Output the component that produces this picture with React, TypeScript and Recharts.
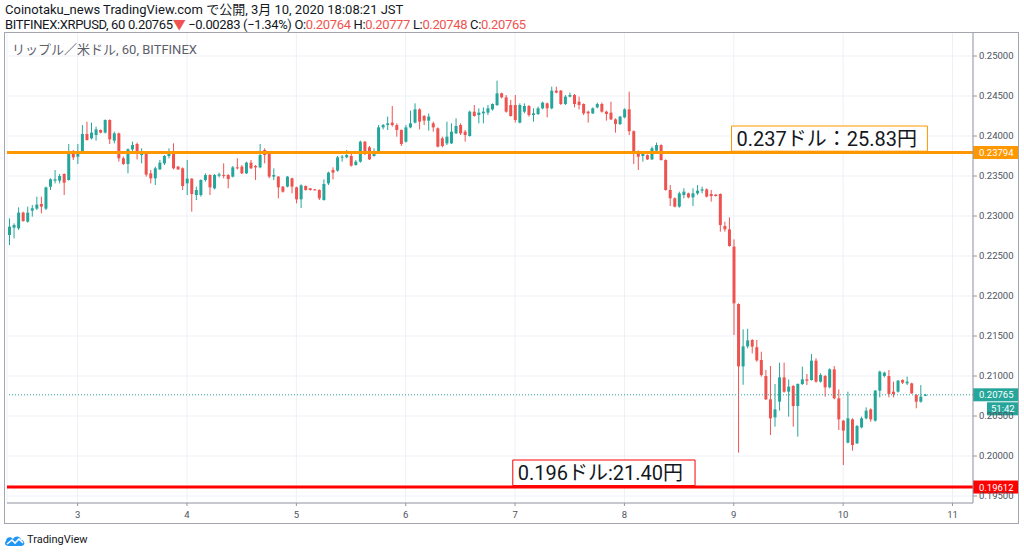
import React from 'react';
import { ComposedChart, Bar, XAxis, YAxis, CartesianGrid, ReferenceLine, ReferenceArea } from 'recharts';

// hourly XRP/USD candles, t = hours from 3 Mar 00:00 (first candle 2 Mar 09:00)
const START_HOUR = -15;
const LAST_SLOT = 196;

const opens = [
  0.22762, 0.22854, 0.22846, 0.23042, 0.22929, 0.23067, 0.23092, 0.2315, 0.23092, 0.23367, 0.23442, 0.23442,
  0.23525, 0.2345, 0.23792, 0.23742, 0.23804, 0.24025, 0.23971, 0.24012, 0.24075, 0.24042, 0.242, 0.23942,
  0.24033, 0.23721, 0.2365, 0.23833, 0.239, 0.23762, 0.23775, 0.23533, 0.23471, 0.23583, 0.23658, 0.2375,
  0.23804, 0.23617, 0.23596, 0.23408, 0.23467, 0.23262, 0.23262, 0.2345, 0.23512, 0.23346, 0.23504, 0.23512,
  0.23512, 0.23492, 0.23608, 0.23617, 0.23533, 0.23667, 0.23625, 0.23608, 0.23825, 0.23775, 0.23492, 0.23492,
  0.23367, 0.23367, 0.23471, 0.23358, 0.23208, 0.23375, 0.23346, 0.23333, 0.23325, 0.232, 0.23408, 0.23575,
  0.23567, 0.23733, 0.23733, 0.2375, 0.23637, 0.23679, 0.23929, 0.23858, 0.2375, 0.23804, 0.24108, 0.24137,
  0.24167, 0.24137, 0.24075, 0.23929, 0.24108, 0.24167, 0.24333, 0.2425, 0.24192, 0.24158, 0.24096, 0.23971,
  0.23908, 0.23908, 0.24033, 0.24137, 0.24054, 0.24, 0.24304, 0.24262, 0.24283, 0.24292, 0.24333, 0.24387,
  0.24533, 0.24483, 0.24387, 0.24387, 0.24167, 0.24304, 0.24375, 0.24262, 0.24275, 0.24346, 0.24408, 0.24346,
  0.24567, 0.24567, 0.244, 0.24492, 0.24512, 0.24429, 0.244, 0.24304, 0.24283, 0.24358, 0.244, 0.24304,
  0.24292, 0.24208, 0.2415, 0.24233, 0.24333, 0.2406, 0.23804, 0.2375, 0.23762, 0.23708, 0.23817, 0.23887,
  0.237, 0.23325, 0.23221, 0.23117, 0.23262, 0.23283, 0.23233, 0.23283, 0.23317, 0.23333, 0.23275, 0.23267,
  0.23275, 0.22875, 0.22833, 0.22617, 0.219, 0.2112, 0.2137, 0.2145, 0.2136, 0.212, 0.21, 0.20708,
  0.20483, 0.20679, 0.20983, 0.20804, 0.20875, 0.20625, 0.209, 0.20958, 0.2095, 0.21192, 0.20929, 0.21,
  0.20858, 0.21083, 0.20721, 0.20442, 0.20167, 0.20458, 0.20158, 0.20358, 0.20471, 0.20583, 0.20442, 0.20817,
  0.21, 0.21, 0.20804, 0.20804, 0.2095, 0.20908, 0.20908, 0.20762, 0.20679, 0.20764,
];

const highs = [
  0.22971, 0.22908, 0.23108, 0.23054, 0.23117, 0.23137, 0.23242, 0.23242, 0.23367, 0.23471, 0.23575, 0.23525,
  0.23533, 0.239, 0.23825, 0.239, 0.24137, 0.24179, 0.24167, 0.24117, 0.24083, 0.24208, 0.24208, 0.24054,
  0.24042, 0.23742, 0.23846, 0.23929, 0.23917, 0.23846, 0.23783, 0.23575, 0.23617, 0.237, 0.23762, 0.23846,
  0.23908, 0.23625, 0.23608, 0.237, 0.23471, 0.23367, 0.23458, 0.23533, 0.23521, 0.23525, 0.23542, 0.23658,
  0.23525, 0.23625, 0.23721, 0.23637, 0.23679, 0.237, 0.23637, 0.239, 0.23846, 0.23783, 0.23596, 0.235,
  0.23375, 0.235, 0.23479, 0.23367, 0.23396, 0.23383, 0.2335, 0.23337, 0.23333, 0.23458, 0.23554, 0.23608,
  0.2375, 0.23762, 0.23825, 0.23783, 0.237, 0.23942, 0.23937, 0.23875, 0.23846, 0.24137, 0.2415, 0.24242,
  0.24375, 0.24158, 0.24083, 0.24137, 0.24317, 0.24408, 0.24346, 0.24262, 0.24283, 0.24179, 0.24108, 0.23992,
  0.24179, 0.24158, 0.24221, 0.24158, 0.24075, 0.24317, 0.24387, 0.24346, 0.24358, 0.24387, 0.24408, 0.24692,
  0.24542, 0.24512, 0.2445, 0.24512, 0.24408, 0.24408, 0.24387, 0.24346, 0.24367, 0.24429, 0.24417, 0.24617,
  0.24617, 0.24575, 0.24512, 0.24542, 0.24525, 0.24492, 0.24408, 0.24317, 0.24358, 0.24417, 0.24417, 0.24317,
  0.24429, 0.24221, 0.2425, 0.24346, 0.24554, 0.2407, 0.2382, 0.23804, 0.2377, 0.23867, 0.23917, 0.23896,
  0.23708, 0.23387, 0.23233, 0.23304, 0.23346, 0.23292, 0.23346, 0.23387, 0.23367, 0.23346, 0.23325, 0.23275,
  0.23283, 0.22929, 0.22983, 0.22708, 0.21908, 0.21583, 0.2159, 0.2146, 0.2145, 0.21304, 0.21075, 0.21125,
  0.209, 0.21167, 0.21167, 0.20958, 0.20887, 0.20908, 0.21117, 0.21025, 0.21275, 0.21221, 0.21033, 0.21012,
  0.21096, 0.21125, 0.20833, 0.2045, 0.20804, 0.20471, 0.20387, 0.20492, 0.20608, 0.20596, 0.20825, 0.21067,
  0.21054, 0.21075, 0.20929, 0.2095, 0.20958, 0.20992, 0.20917, 0.20775, 0.20887, 0.20777,
];

const lows = [
  0.22637, 0.22721, 0.22825, 0.22929, 0.22917, 0.22992, 0.23075, 0.23033, 0.23075, 0.23325, 0.23408, 0.23408,
  0.23262, 0.23442, 0.237, 0.2365, 0.23792, 0.23942, 0.23958, 0.23942, 0.24033, 0.24033, 0.239, 0.23908,
  0.23679, 0.23637, 0.23533, 0.23804, 0.23708, 0.23658, 0.23492, 0.23408, 0.23387, 0.23575, 0.23637, 0.23721,
  0.23583, 0.23575, 0.23325, 0.23262, 0.23054, 0.232, 0.23242, 0.23429, 0.23262, 0.23333, 0.23483, 0.23471,
  0.23346, 0.23483, 0.23583, 0.23525, 0.23525, 0.23587, 0.2345, 0.23596, 0.23658, 0.23471, 0.2345, 0.23221,
  0.23292, 0.23358, 0.23283, 0.23158, 0.231, 0.23317, 0.23317, 0.23317, 0.232, 0.23192, 0.23387, 0.23458,
  0.23554, 0.23679, 0.23721, 0.23617, 0.2363, 0.23667, 0.23762, 0.237, 0.23742, 0.23792, 0.24083, 0.24075,
  0.24117, 0.23992, 0.23875, 0.23917, 0.24096, 0.24158, 0.24083, 0.24137, 0.24067, 0.24054, 0.23858, 0.23858,
  0.23887, 0.239, 0.24025, 0.24012, 0.23929, 0.23992, 0.24242, 0.24158, 0.24158, 0.24262, 0.24317, 0.24375,
  0.24471, 0.24292, 0.24242, 0.24167, 0.24158, 0.24283, 0.24242, 0.24179, 0.24262, 0.24333, 0.24233, 0.24333,
  0.24533, 0.24387, 0.24387, 0.24483, 0.24358, 0.24333, 0.24262, 0.24167, 0.24275, 0.24346, 0.24292, 0.24192,
  0.242, 0.24042, 0.24137, 0.24221, 0.24012, 0.2365, 0.23575, 0.23679, 0.237, 0.237, 0.23804, 0.23692,
  0.23317, 0.23125, 0.23108, 0.23104, 0.23221, 0.23221, 0.23125, 0.23262, 0.23283, 0.23233, 0.23179, 0.23242,
  0.22804, 0.22804, 0.22617, 0.21512, 0.20042, 0.2089, 0.21346, 0.21283, 0.21179, 0.20992, 0.207, 0.20262,
  0.20367, 0.20567, 0.20792, 0.20492, 0.20367, 0.20242, 0.20887, 0.20887, 0.20942, 0.20917, 0.20917, 0.20742,
  0.20846, 0.20708, 0.20325, 0.19887, 0.20158, 0.20067, 0.2015, 0.20346, 0.20458, 0.20429, 0.20429, 0.20733,
  0.20983, 0.20733, 0.20733, 0.20792, 0.209, 0.20887, 0.20775, 0.20596, 0.20667, 0.20748,
];

const closes = [
  0.22867, 0.22887, 0.23042, 0.22937, 0.23042, 0.23096, 0.23142, 0.23117, 0.23358, 0.23458, 0.23458, 0.235,
  0.23417, 0.23792, 0.23733, 0.23775, 0.24025, 0.2395, 0.24042, 0.24083, 0.24042, 0.242, 0.23958, 0.24033,
  0.23721, 0.2365, 0.23833, 0.23887, 0.23775, 0.23804, 0.23517, 0.23471, 0.23596, 0.23667, 0.2375, 0.23812,
  0.23596, 0.23583, 0.23375, 0.23467, 0.23275, 0.23325, 0.2345, 0.23512, 0.23358, 0.23512, 0.23521, 0.235,
  0.23462, 0.23608, 0.23596, 0.23533, 0.23667, 0.23596, 0.23608, 0.23762, 0.23762, 0.23492, 0.23512, 0.23358,
  0.23304, 0.23492, 0.23367, 0.23208, 0.23383, 0.23325, 0.23325, 0.23325, 0.23221, 0.234, 0.23542, 0.23542,
  0.23733, 0.23742, 0.23762, 0.23629, 0.23679, 0.23929, 0.23783, 0.23708, 0.23804, 0.24108, 0.24137, 0.24158,
  0.24137, 0.24075, 0.239, 0.24108, 0.24158, 0.24333, 0.24179, 0.24192, 0.24242, 0.24108, 0.23867, 0.23875,
  0.23992, 0.24054, 0.24125, 0.24033, 0.24012, 0.24304, 0.2425, 0.24292, 0.24304, 0.24346, 0.244, 0.24533,
  0.24483, 0.24304, 0.2425, 0.242, 0.24387, 0.24375, 0.24262, 0.24283, 0.24346, 0.24417, 0.24346, 0.24567,
  0.24542, 0.244, 0.24492, 0.24512, 0.244, 0.24387, 0.24283, 0.24283, 0.24346, 0.244, 0.24304, 0.24275,
  0.24208, 0.2415, 0.24242, 0.24333, 0.2406, 0.238, 0.23742, 0.23775, 0.23708, 0.23846, 0.23887, 0.237,
  0.23325, 0.23221, 0.23117, 0.23283, 0.23304, 0.23233, 0.23283, 0.23317, 0.23333, 0.23242, 0.2325, 0.2325,
  0.22887, 0.22833, 0.22625, 0.21908, 0.2112, 0.2137, 0.21445, 0.21367, 0.21195, 0.21012, 0.20708, 0.20471,
  0.20583, 0.20983, 0.20804, 0.20867, 0.20625, 0.209, 0.20958, 0.20942, 0.21192, 0.20929, 0.21012, 0.20858,
  0.21083, 0.20721, 0.20458, 0.20317, 0.20471, 0.20137, 0.20375, 0.20471, 0.20567, 0.20458, 0.20817, 0.21054,
  0.21042, 0.20775, 0.20775, 0.20942, 0.20917, 0.20929, 0.20783, 0.20679, 0.20742, 0.20765,
];

const dayTicks = [0, 24, 48, 72, 96, 120, 144, 168, 192];
const dayLabels = ['3', '4', '5', '6', '7', '8', '9', '10', '11'];
const priceTicks = [0.195, 0.2, 0.205, 0.21, 0.215, 0.22, 0.225, 0.23, 0.235, 0.24, 0.245, 0.25];

const LEVEL_HIGH = 0.23794;
const LEVEL_LOW = 0.19612;
const LAST_PRICE = 0.20765;
const COUNTDOWN = '51:42';
const NOTE_HIGH = '0.237ドル：25.83円';
const NOTE_LOW = '0.196ドル:21.40円';

const UP = '#26a69a';
const DOWN = '#ef5350';
const ORANGE = '#ff9800';
const RED = '#ff0000';
const FONT = "Roboto, 'Noto Sans CJK JP', sans-serif";

const data = Array.from({ length: LAST_SLOT - START_HOUR + 1 }, (_, i) => {
  const t = START_HOUR + i;
  if (i >= opens.length) return { t };
  return { t, o: opens[i], h: highs[i], l: lows[i], c: closes[i], range: [lows[i], highs[i]] };
});

const Candle = (props: any) => {
  const { x, y, width, height, payload } = props;
  if (!payload || payload.o == null) return null;
  const { o, h, l, c } = payload;
  const top = Math.min(y, y + height);
  const span = Math.abs(height);
  const toY = (v: number) => (h === l ? top : top + ((h - v) / (h - l)) * span);
  const color = c >= o ? UP : DOWN;
  const bodyTop = toY(Math.max(o, c));
  const bodyH = Math.max(1, toY(Math.min(o, c)) - bodyTop);
  const cx = x + width / 2;
  return (
    <g>
      <line x1={cx} x2={cx} y1={top} y2={top + span} stroke={color} strokeWidth={1} />
      <rect x={x} y={bodyTop} width={width} height={bodyH} fill={color} />
    </g>
  );
};

const PriceTag = ({ viewBox, text, bg, sub }: any) => {
  if (!viewBox) return null;
  const x = viewBox.x + viewBox.width;
  const y = viewBox.y;
  return (
    <g>
      <rect x={x} y={y - 6.5} width={45} height={13} fill={bg} />
      <text x={x + 6} y={y + 3.5} fill="#fff" fontSize={9.5} fontFamily={FONT}>{text}</text>
      {sub && (
        <g>
          <rect x={x + 14} y={y + 7.5} width={31} height={13} fill={bg} />
          <text x={x + 18} y={y + 17.5} fill="#fff" fontSize={9.5} fontFamily={FONT}>{sub}</text>
        </g>
      )}
    </g>
  );
};

const TvLogo = () => (
  <svg width={22} height={12} viewBox="0 0 22 12" style={{ position: 'absolute', left: 4, top: 535 }}>
    <path d="M5 11 C1 11 0 8 2 6 C2 2 7 1 9 4 C11 0 17 1 17 5 C21 5 22 11 17 11 Z" fill="#2196f3" />
    <path d="M3 9 L8 5 L11 8 L15 4 L19 8" stroke="#fff" strokeWidth={1.6} fill="none" />
  </svg>
);

const red = { color: '#ef5350' };

export default function App() {
  return (
    <div style={{ position: 'relative', width: 1024, height: 552, background: '#fff', fontFamily: FONT, overflow: 'hidden' }}>
      <style>{'body{margin:0}'}</style>
      <div style={{ position: 'absolute', left: 5, top: 2, fontSize: 13, lineHeight: '15px', color: '#131722', whiteSpace: 'nowrap' }}>
        Coinotaku_news TradingView.com で公開, 3月 10, 2020 18:08:21 JST
      </div>
      <div style={{ position: 'absolute', left: 5, top: 17, fontSize: 13, lineHeight: '15px', letterSpacing: -0.35, color: '#131722', whiteSpace: 'nowrap' }}>
        BITFINEX:XRPUSD, 60 0.20765<span style={red}>▼</span> −0.00283 (−1.34%) O:<span style={red}>0.20764</span> H:
        <span style={red}>0.20777</span> L:<span style={red}>0.20748</span> C:<span style={red}>0.20765</span>
      </div>

      <div style={{ position: 'absolute', left: 5, top: 32 }}>
        <ComposedChart width={1013} height={491} data={data} margin={{ top: 0, right: 0, left: 2, bottom: 0 }}>
          <CartesianGrid stroke="#edf1f7" strokeWidth={1} />
          <XAxis
            dataKey="t"
            ticks={dayTicks}
            interval={0}
            tickFormatter={(t: number) => dayLabels[dayTicks.indexOf(t)] ?? ''}
            height={20}
            tickSize={3}
            tickMargin={5}
            axisLine={{ stroke: '#9598a1' }}
            tickLine={{ stroke: '#9598a1' }}
            tick={{ fontSize: 9.5, fill: '#4c525e', fontFamily: FONT }}
          />
          <YAxis
            orientation="right"
            type="number"
            domain={[0.194125, 0.253]}
            allowDataOverflow
            ticks={priceTicks}
            interval={0}
            width={45}
            tickSize={4}
            tickFormatter={(v: number) => v.toFixed(5)}
            axisLine={{ stroke: '#9598a1' }}
            tickLine={{ stroke: '#9598a1' }}
            tick={{ fontSize: 9.5, fill: '#4c525e', fontFamily: FONT }}
          />
          <Bar dataKey="range" barSize={3} shape={<Candle />} isAnimationActive={false} />
          <ReferenceLine
            y={LAST_PRICE}
            stroke={UP}
            strokeDasharray="1 2"
            label={(p: any) => <PriceTag {...p} text={LAST_PRICE.toFixed(5)} bg={UP} sub={COUNTDOWN} />}
          />
          <ReferenceLine
            y={LEVEL_HIGH}
            stroke={ORANGE}
            strokeWidth={3}
            label={(p: any) => <PriceTag {...p} text={LEVEL_HIGH.toFixed(5)} bg={ORANGE} />}
          />
          <ReferenceLine
            y={LEVEL_LOW}
            stroke={RED}
            strokeWidth={3}
            label={(p: any) => <PriceTag {...p} text={LEVEL_LOW.toFixed(5)} bg={RED} />}
          />
          <ReferenceArea
            x1={144}
            x2={186}
            y1={0.2381}
            y2={0.24125}
            fill="#fff"
            fillOpacity={1}
            stroke={ORANGE}
            strokeWidth={1}
            label={{ value: NOTE_HIGH, position: 'insideLeft', offset: 5, fontSize: 20, fill: '#131722', fontFamily: FONT }}
          />
          <ReferenceArea
            x1={96}
            x2={135}
            y1={0.1963}
            y2={0.1995}
            fill="#fff"
            fillOpacity={1}
            stroke={RED}
            strokeWidth={1}
            label={{ value: NOTE_LOW, position: 'insideLeft', offset: 5, fontSize: 20, fill: '#131722', fontFamily: FONT }}
          />
        </ComposedChart>
      </div>

      <div style={{ position: 'absolute', left: 4, top: 32, width: 1013, height: 490, border: '1px solid #a3a6af', pointerEvents: 'none' }} />
      <div style={{ position: 'absolute', left: 12, top: 39, fontSize: 13, color: '#5d606b' }}>リップル／米ドル, 60, BITFINEX</div>

      <TvLogo />
      <div style={{ position: 'absolute', left: 27, top: 533, fontSize: 11, color: '#131722' }}>TradingView</div>
    </div>
  );
}
